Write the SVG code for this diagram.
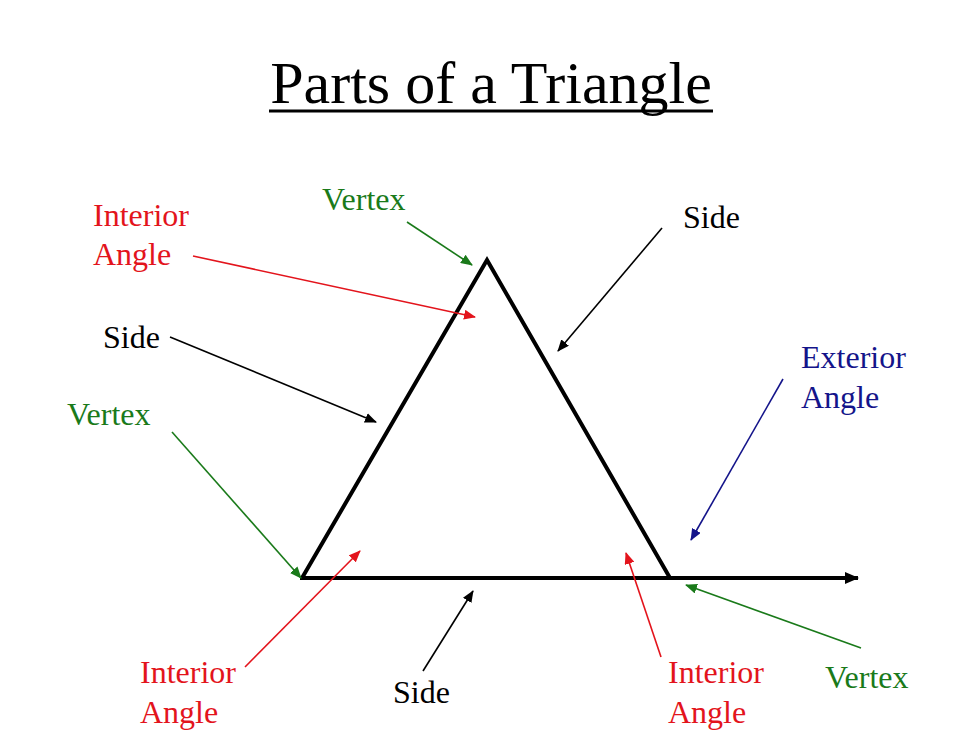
<svg xmlns="http://www.w3.org/2000/svg" width="980" height="735" viewBox="0 0 980 735">
<style>
text{font-family:"Liberation Serif","Times New Roman",serif;font-size:32px}
.t{font-size:60px;fill:#000}
.k{fill:#000}.r{fill:#e3141c}.g{fill:#1a7a1a}.b{fill:#14148a}
.ak{stroke:#000}.ar{stroke:#e3141c}.ag{stroke:#1a7a1a}.ab{stroke:#14148a}
.c line{stroke-width:1.6;fill:none}
</style>
<defs>
<marker id="mk" viewBox="0 0 12 10" refX="11" refY="5" markerWidth="12" markerHeight="10" markerUnits="userSpaceOnUse" orient="auto"><path d="M0,0 L12,5 L0,10 z" fill="#000"/></marker>
<marker id="mr" viewBox="0 0 12 10" refX="11" refY="5" markerWidth="12" markerHeight="10" markerUnits="userSpaceOnUse" orient="auto"><path d="M0,0 L12,5 L0,10 z" fill="#e3141c"/></marker>
<marker id="mg" viewBox="0 0 12 10" refX="11" refY="5" markerWidth="12" markerHeight="10" markerUnits="userSpaceOnUse" orient="auto"><path d="M0,0 L12,5 L0,10 z" fill="#1a7a1a"/></marker>
<marker id="mb" viewBox="0 0 12 10" refX="11" refY="5" markerWidth="12" markerHeight="10" markerUnits="userSpaceOnUse" orient="auto"><path d="M0,0 L12,5 L0,10 z" fill="#14148a"/></marker>
<marker id="mbig" viewBox="0 0 14 12" refX="13" refY="6" markerWidth="14" markerHeight="12" markerUnits="userSpaceOnUse" orient="auto"><path d="M0,0 L14,6 L0,12 z" fill="#000"/></marker>
</defs>
<rect width="980" height="735" fill="#fff"/>
<g id="title">
<text class="t" x="491" y="103" text-anchor="middle">Parts of a Triangle</text>
<line x1="269" y1="111" x2="713" y2="111" stroke="#000" stroke-width="3"/>
</g>
<g id="triangle">
<path d="M302,578 L487,260 L670,578" fill="none" stroke="#000" stroke-width="4" stroke-linejoin="miter"/>
<line x1="300" y1="578" x2="858" y2="578" stroke="#000" stroke-width="4" marker-end="url(#mbig)"/>
</g>
<g id="labels">
<g id="interior-top"><text class="r" x="93" y="226">Interior</text><text class="r" x="93" y="265">Angle</text></g>
<g id="vertex-top"><text class="g" x="322" y="210">Vertex</text></g>
<g id="side-right"><text class="k" x="683" y="228">Side</text></g>
<g id="side-left"><text class="k" x="103" y="348">Side</text></g>
<g id="exterior"><text class="b" x="801" y="368">Exterior</text><text class="b" x="801" y="408">Angle</text></g>
<g id="vertex-left"><text class="g" x="67" y="425">Vertex</text></g>
<g id="interior-bl"><text class="r" x="140" y="683">Interior</text><text class="r" x="140" y="723">Angle</text></g>
<g id="side-bottom"><text class="k" x="393" y="703">Side</text></g>
<g id="interior-br"><text class="r" x="668" y="683">Interior</text><text class="r" x="668" y="723">Angle</text></g>
<g id="vertex-right"><text class="g" x="825" y="688">Vertex</text></g>
</g>
<g id="connectors" class="c">
<line class="ag" x1="407" y1="222" x2="472" y2="265" marker-end="url(#mg)"/>
<line class="ar" x1="193" y1="256" x2="475" y2="317" marker-end="url(#mr)"/>
<line class="ak" x1="170" y1="337" x2="376" y2="422" marker-end="url(#mk)"/>
<line class="ak" x1="662" y1="228" x2="558" y2="351" marker-end="url(#mk)"/>
<line class="ab" x1="783" y1="379" x2="691" y2="540" marker-end="url(#mb)"/>
<line class="ag" x1="172" y1="432" x2="301" y2="578" marker-end="url(#mg)"/>
<line class="ar" x1="245" y1="667" x2="360" y2="551" marker-end="url(#mr)"/>
<line class="ak" x1="423" y1="671" x2="473" y2="591" marker-end="url(#mk)"/>
<line class="ar" x1="661" y1="657" x2="626" y2="553" marker-end="url(#mr)"/>
<line class="ag" x1="861" y1="648" x2="686" y2="585" marker-end="url(#mg)"/>
</g>
</svg>
